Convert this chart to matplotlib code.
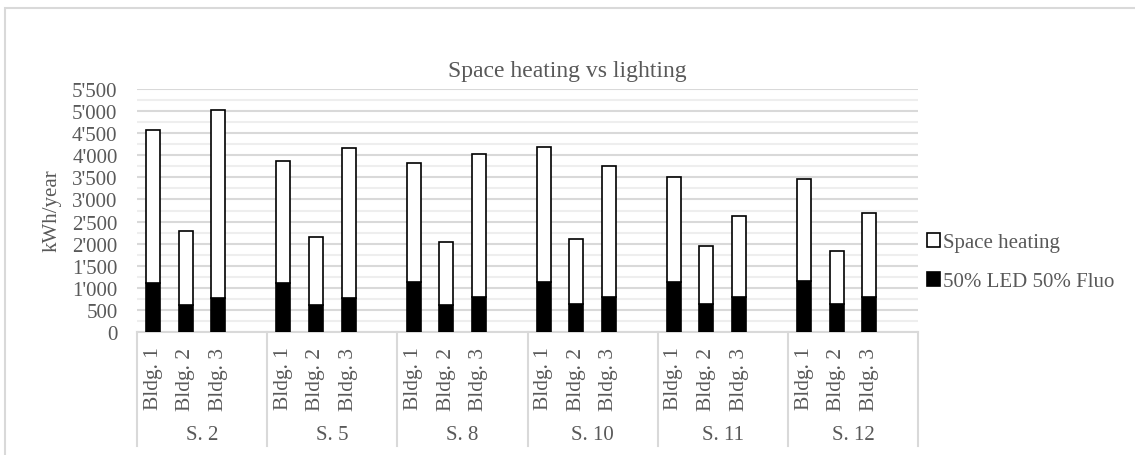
#!/usr/bin/python
import numpy as np
from matplotlib import pyplot as plt
from matplotlib.patches import Patch, Rectangle

plt.rc('font', family='Liberation Serif')

SCENARIOS = ['S. 2', 'S. 5', 'S. 8', 'S. 10', 'S. 11', 'S. 12']
BUILDINGS = ['Bldg. 1', 'Bldg. 2', 'Bldg. 3']

# kWh/year, one row per scenario, one column per building
LIGHTING = [
    [1100, 617, 762],
    [1115, 610, 762],
    [1137, 617, 784],
    [1123, 633, 791],
    [1137, 626, 791],
    [1153, 640, 798],
]
SPACE_HEATING = [
    [3466, 1666, 4256],
    [2750, 1530, 3404],
    [2690, 1410, 3255],
    [3074, 1462, 2977],
    [2373, 1318, 1831],
    [2305, 1191, 1885],
]

TEXT = '#595959'
GRID = '#d9d9d9'
BAR_WIDTH = 0.43
SLOTS = 4  # three buildings + one empty slot per scenario


def main():
    W, H = 1135, 456
    fig = plt.figure(figsize=(W / 100, H / 100), dpi=100)
    ax = fig.add_axes([137 / W, 1 - 333 / H, (918 - 137) / W, (333 - 90) / H])

    light = np.array(LIGHTING)
    heat = np.array(SPACE_HEATING)
    n_s, n_b = light.shape
    pos = np.array([[g * SLOTS + i + 0.5 for i in range(n_b)] for g in range(n_s)])

    ax.bar(pos.ravel(), light.ravel(), BAR_WIDTH, color='black',
           edgecolor='black', linewidth=1.2, zorder=3)
    ax.bar(pos.ravel(), heat.ravel(), BAR_WIDTH, bottom=light.ravel(),
           color='white', edgecolor='black', linewidth=1.2, zorder=3)

    ax.set_xlim(0, n_s * SLOTS)
    ax.set_ylim(0, 5500)
    ax.set_yticks(np.arange(0, 5501, 500))
    ax.set_yticks(np.arange(250, 5500, 500), minor=True)
    ax.set_yticklabels(['{:,}'.format(v).replace(',', "'") for v in range(0, 5501, 500)])
    ax.grid(axis='y', which='major', color=GRID, linewidth=1.5, zorder=0)
    ax.grid(axis='y', which='minor', color='#eeeeee', linewidth=1.5, zorder=0)
    ax.tick_params(axis='y', which='both', length=0, pad=14, labelsize=15,
                   labelcolor=TEXT)
    ax.set_xticks([])
    for sp in ['top', 'right', 'left']:
        ax.spines[sp].set_visible(False)
    ax.spines['bottom'].set_color(GRID)
    ax.spines['bottom'].set_linewidth(1.5)

    # two level category axis
    tr = ax.get_xaxis_transform()
    for g in range(n_s + 1):
        ax.plot([g * SLOTS, g * SLOTS], [0, -0.47], transform=tr, color=GRID,
                linewidth=1.5, clip_on=False)
    for g in range(n_s):
        for i in range(n_b):
            ax.text(pos[g, i], -0.06, BUILDINGS[i], transform=tr, rotation=90,
                    ha='center', va='top', fontsize=15.5, color=TEXT)
        ax.text(g * SLOTS + 2, -0.42, SCENARIOS[g], transform=tr,
                ha='center', va='center', fontsize=15, color=TEXT)

    fig.text(52 / W, 1 - 211 / H, 'kWh/year', rotation=90, ha='center',
             va='center', fontsize=15, color=TEXT)
    fig.text(0.5, 1 - 71 / H, 'Space heating vs lighting', ha='center',
             va='center', fontsize=17, color=TEXT)

    handles = [Patch(facecolor='white', edgecolor='black', linewidth=1.2),
               Patch(facecolor='black', edgecolor='black', linewidth=1.2)]
    leg = fig.legend(handles, ['Space heating', '50% LED 50% Fluo'],
                     loc='center left', bbox_to_anchor=(908 / W, 1 - 263 / H),
                     frameon=False, fontsize=15, handlelength=0.65,
                     handleheight=0.65, handletextpad=0.15, labelspacing=0.95)
    for t in leg.get_texts():
        t.set_color(TEXT)

    # chart frame
    fig.patches.append(Rectangle((5 / W, -0.2), 1.2, 1.2 - 9 / H, transform=fig.transFigure,
                                 fill=False, edgecolor=GRID, linewidth=1.5))

    plt.savefig('out.png', dpi=100)


if __name__ == '__main__':
    main()
